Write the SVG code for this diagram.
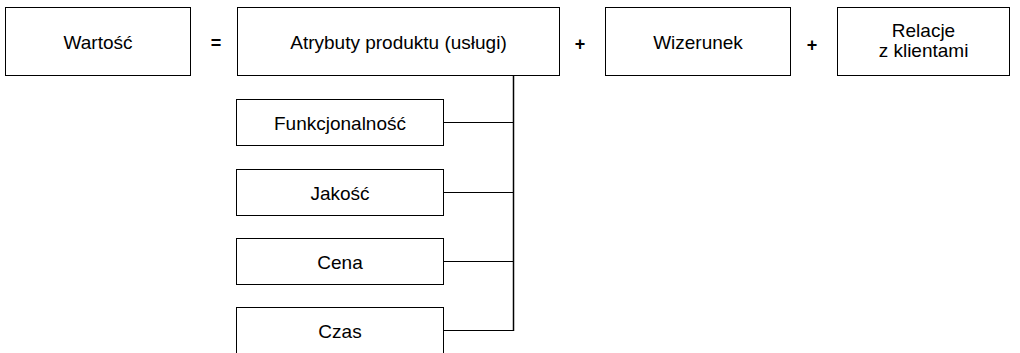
<svg xmlns="http://www.w3.org/2000/svg" width="1020" height="353" viewBox="0 0 1020 353">
  <style>
    .box { fill: #ffffff; stroke: #000000; stroke-width: 1; }
    .lbl { font-family: "Liberation Sans", Arial, sans-serif; font-size: 19px; fill: #000000; text-anchor: middle; }
    .op { font-family: "Liberation Sans", Arial, sans-serif; font-size: 18px; font-weight: bold; fill: #000000; text-anchor: middle; }
    .wire { fill: none; stroke: #000000; stroke-width: 1; }
    .trunk { fill: none; stroke: #000000; stroke-width: 1.5; }
  </style>
  <rect width="1020" height="353" fill="#ffffff"/>

  <!-- connectors: attribute boxes joined to the attributes box -->
  <g id="connectors">
    <line class="trunk" x1="513.5" y1="76" x2="513.5" y2="331"/>
    <line class="wire" x1="444" y1="122.5" x2="513.5" y2="122.5"/>
    <line class="wire" x1="444" y1="192.5" x2="513.5" y2="192.5"/>
    <line class="wire" x1="444" y1="261.5" x2="513.5" y2="261.5"/>
    <line class="wire" x1="444" y1="330.5" x2="513.5" y2="330.5"/>
  </g>

  <!-- top row: value equation -->
  <g id="wartosc">
    <rect class="box" x="5.5" y="7.5" width="185" height="68"/>
    <text class="lbl" x="98" y="48.5">Wartość</text>
  </g>
  <text class="op" x="216" y="49">=</text>
  <g id="atrybuty">
    <rect class="box" x="237.5" y="7.5" width="322" height="68"/>
    <text class="lbl" x="398.5" y="48.5">Atrybuty produktu (usługi)</text>
  </g>
  <text class="op" x="580" y="49.5">+</text>
  <g id="wizerunek">
    <rect class="box" x="605.5" y="7.5" width="185" height="68"/>
    <text class="lbl" x="698" y="48.5">Wizerunek</text>
  </g>
  <text class="op" x="812" y="50.5">+</text>
  <g id="relacje">
    <rect class="box" x="837.5" y="7.5" width="172" height="68"/>
    <text class="lbl" x="923.5" y="36.5">Relacje</text>
    <text class="lbl" x="923.5" y="57">z klientami</text>
  </g>

  <!-- product attributes -->
  <g id="funkcjonalnosc">
    <rect class="box" x="236.5" y="99.5" width="207" height="46"/>
    <text class="lbl" x="340" y="129.5">Funkcjonalność</text>
  </g>
  <g id="jakosc">
    <rect class="box" x="236.5" y="169.5" width="207" height="46"/>
    <text class="lbl" x="340" y="199.5">Jakość</text>
  </g>
  <g id="cena">
    <rect class="box" x="236.5" y="238.5" width="207" height="46"/>
    <text class="lbl" x="340" y="268.5">Cena</text>
  </g>
  <g id="czas">
    <rect class="box" x="236.5" y="307.5" width="207" height="46"/>
    <text class="lbl" x="340" y="337.5">Czas</text>
  </g>
</svg>
